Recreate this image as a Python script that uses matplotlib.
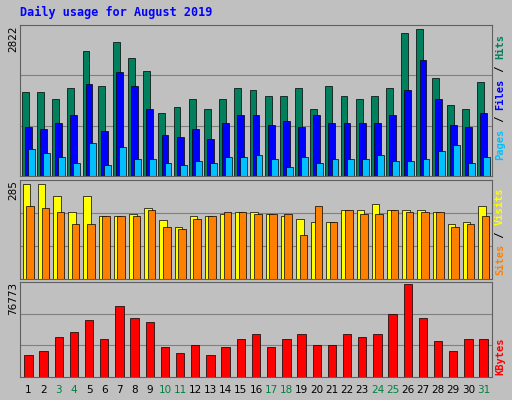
import matplotlib
matplotlib.use("Agg")
import matplotlib.pyplot as plt
import numpy as np

days = list(range(1, 32))
weekend = [3, 4, 10, 11, 17, 18, 24, 25, 31]
hits = [1561,1561,1448,1637,2333,1674,2502,2201,1956,1185,1298,1448,1260,1448,1637,1599,1486,1486,1637,1260,1674,1486,1448,1486,1637,2671,2746,1825,1336,1260,1749]
files = [922,884,997,1147,1712,846,1937,1674,1260,771,734,884,696,997,1147,1147,959,1035,922,1147,997,997,997,997,1147,1599,2163,1448,959,922,1185]
pages = [508,433,357,245,621,207,545,320,320,245,207,282,245,357,357,395,320,169,357,245,320,320,320,395,282,282,320,470,583,245,357]
visits = [273,273,238,192,238,180,180,186,204,169,151,180,180,186,192,192,186,180,174,163,163,198,198,215,198,198,198,192,157,163,209]
sites = [209,204,192,157,157,180,180,180,198,151,145,174,180,192,192,186,186,186,128,209,163,198,186,186,198,192,192,192,151,157,180]
kbytes = [18359,21697,33380,36718,46732,31711,58415,48401,45063,25035,20028,26704,18359,25035,31711,35049,25035,31711,35049,26704,26704,35049,33380,35049,51739,76773,48401,30042,21697,31711,31711]

W, H = 512, 400
fig = plt.figure(figsize=(W/100, H/100), dpi=100)
fig.patch.set_facecolor("#C0C0C0")
font = dict(family="DejaVu Sans Mono", weight="bold")

def ax_px(x0, y0, x1, y1):
    return fig.add_axes([x0/W, 1-y1/H, (x1-x0)/W, (y1-y0)/H])

x = np.array(days)
def style(ax, ymax):
    ax.set_facecolor("#C0C0C0")
    ax.set_xlim(0.45, 31.55)
    ax.set_ylim(0, ymax)
    ax.set_xticks([]); ax.set_yticks([])
    for f in (1/3, 2/3):
        ax.axhline(ymax*f, color="#808080", lw=0.8, zorder=0)
    for s in ax.spines.values():
        s.set_color("#606060")

ax1 = ax_px(20, 25, 492, 176)
style(ax1, 2822)
ax1.bar(x-0.2, hits, 0.45, color="#00805C", edgecolor="black", lw=0.5)
ax1.bar(x, files, 0.45, color="#0000FF", edgecolor="black", lw=0.5)
ax1.bar(x+0.2, pages, 0.45, color="#00C0FF", edgecolor="black", lw=0.5)

ax2 = ax_px(20, 180, 492, 279)
style(ax2, 285)
ax2.bar(x-0.12, visits, 0.5, color="#FFFF00", edgecolor="black", lw=0.5)
ax2.bar(x+0.12, sites, 0.5, color="#FF8000", edgecolor="black", lw=0.5)

ax3 = ax_px(20, 282, 492, 377)
style(ax3, 76773*1.02)
ax3.bar(x, kbytes, 0.55, color="#FF0000", edgecolor="black", lw=0.5)
for d in days:
    ax3.text(d, -0.09*76773, str(d), ha="center", va="top", fontsize=7.5,
             family="DejaVu Sans", color="#008040" if d in weekend else "black")

fig.text(20/W, 1-12/H, "Daily usage for August 2019", color="#0000FF", fontsize=8.5, va="center", **font)
for ytop, lab in [(25, "2822"), (180, "285"), (282, "76773")]:
    fig.text(13/W, 1-ytop/H, lab, rotation=90, va="top", ha="center", fontsize=7.5, family="DejaVu Sans")

def right_label(parts, ybottom):
    y = ybottom
    for txt, col in parts:
        fig.text(500/W, 1-y/H, txt, rotation=90, color=col, va="bottom", ha="center", fontsize=7.5, **font)
        y -= len(txt)*6.3
right_label([("Pages", "#00C0FF"), (" / ", "black"), ("Files", "#0000FF"), (" / ", "black"), ("Hits", "#00805C")], 160)
right_label([("Sites", "#FF8000"), (" / ", "black"), ("Visits", "#FFFF00")], 275)
right_label([("KBytes", "#FF0000")], 375)

fig.savefig("out.png", dpi=100, facecolor=fig.get_facecolor())
